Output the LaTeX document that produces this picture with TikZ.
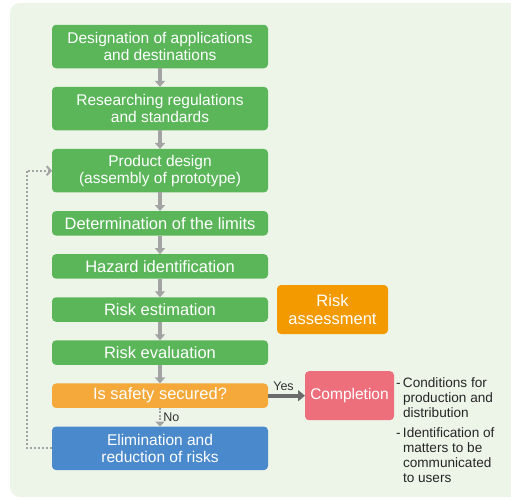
\documentclass[tikz,border=0pt]{standalone}
\usepackage{fontspec}
\setmainfont{Liberation Sans}
\usetikzlibrary{
	arrows.meta,
	positioning,
	fit,
	backgrounds,
	calc
}
\definecolor{stepgreen}{HTML}{5BB65A}
\definecolor{checkorange}{HTML}{F5A93A}
\definecolor{assessorange}{HTML}{F39A00}
\definecolor{donepink}{HTML}{EE6F7C}
\definecolor{fixblue}{HTML}{4A89CB}
\definecolor{zonepeach}{HTML}{FDE3C0}
\definecolor{panelgreen}{HTML}{EDF5E9}
\definecolor{flowgray}{HTML}{A3A3A3}
\definecolor{yesgray}{HTML}{6B6B6B}

\begin{document}
\begin{tikzpicture}[
    x=1pt, y=1pt,
    node distance=18.6pt and 9pt,
    box/.style={rectangle, rounded corners=4pt, text=white, align=center, minimum width=216pt, inner sep=0pt, outer sep=0pt, font=\fontsize{16.5}{17}\selectfont},
    twoline/.style={box, minimum height=43.5pt, font=\fontsize{15.5}{17}\selectfont},
    oneline/.style={box, minimum height=24.5pt},
    arrow/.style={draw=flowgray, line width=3.5pt, -{Triangle[width=10pt,length=6pt]}}
]
\useasboundingbox (0,0) rectangle (511,-499);
\fill[panelgreen, rounded corners=10pt] (10,-3) rectangle (530,-497);

% Nodes
\node[twoline, fill=stepgreen] (apps) at (160,-46.5) {Designation of applications\\and destinations};
\node[twoline, below=of apps, fill=stepgreen] (rules) {Researching regulations\\and standards};
\node[twoline, below=of rules, fill=stepgreen] (design) {Product design\\(assembly of prototype)};
\node[oneline, below=of design, fill=stepgreen] (limits) {Determination of the limits};
\node[oneline, below=of limits, fill=stepgreen] (hazard) {Hazard identification};
\node[oneline, below=of hazard, fill=stepgreen] (estim) {Risk estimation};
\node[oneline, below=of estim, fill=stepgreen] (evalu) {Risk evaluation};
\node[oneline, below=of evalu, fill=checkorange] (safe) {Is safety secured?};
\node[twoline, below=of safe, fill=fixblue] (reduce) {Elimination and\\reduction of risks};

\node[box, right=of estim, fill=assessorange, minimum width=111pt, minimum height=49pt, font=\fontsize{16.5}{18}\selectfont] (assess) {Risk\\assessment};
\node[box, right=37pt of safe, fill=donepink, minimum width=89pt, minimum height=49pt, font=\fontsize{15.5}{17}\selectfont] (done) {Completion};
\node[anchor=north west, inner sep=0pt, text=black!85, font=\fontsize{13.6}{15.3}\selectfont] (notes) at ($(done.north east)+(2,-5)$) {%
  \begin{tabular}{@{}l@{\,}l@{}}
  - & Conditions for\\
    & production and\\
    & distribution\\[4pt]
  - & Identification of\\
    & matters to be\\
    & communicated\\
    & to users
  \end{tabular}};

% Arrows
\draw[arrow] (apps) -- (rules);
\draw[arrow] (rules) -- (design);
\draw[arrow] (design) -- (limits);
\draw[arrow] (limits) -- (hazard);
\draw[arrow] (hazard) -- (estim);
\draw[arrow] (estim) -- (evalu);
\draw[arrow] (evalu) -- (safe);
\draw[draw=yesgray, line width=4pt, -{Triangle[width=11pt,length=7pt]}] (safe) -- node[midway, above, xshift=-3pt, yshift=1pt, text=black!80, font=\fontsize{12.5}{12.5}\selectfont, inner sep=2pt] {Yes} (done);
\draw[draw=flowgray, line width=2.5pt, dash pattern=on 2pt off 1.5pt, -{Triangle[width=9pt,length=5pt]}] (safe) -- node[midway, right, text=black!80, font=\fontsize{12.5}{12.5}\selectfont, inner sep=2pt] {No} (reduce);

% Connections
\draw[draw=flowgray, line width=2pt, dash pattern=on 2pt off 2pt, -{Straight Barb[length=4pt,width=9pt]}] (reduce.west) -- ++(-25,0) |- (design.west);

% Background grouping
\begin{scope}[on background layer]
\fill[zonepeach, rounded corners=5pt] ($(limits.north west)+(-9,9)$) rectangle ($(safe.south east)+(21,-9)$);
\end{scope}

\end{tikzpicture}
\end{document}
